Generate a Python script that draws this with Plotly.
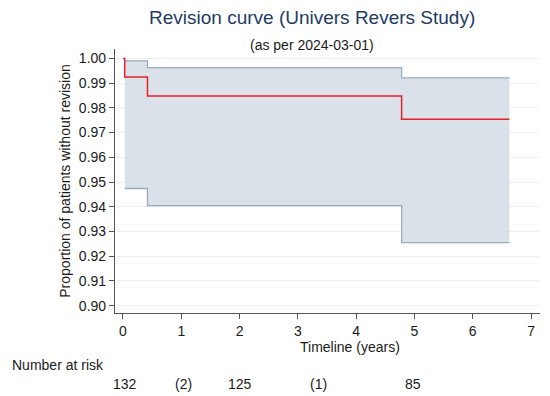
import plotly.graph_objects as go

# Kaplan-Meier revision curve data
km_time = [0.0, 0.03, 0.42, 4.78, 6.63]
km_surv = [1.0, 0.9925, 0.9848, 0.9754, 0.9754]
ci_time = [0.03, 0.42, 4.78, 6.63]
ci_upper = [0.9990, 0.9963, 0.9921, 0.9921]
ci_lower = [0.9474, 0.9405, 0.9255, 0.9255]

x_ticks = [0, 1, 2, 3, 4, 5, 6, 7]
y_ticks = [0.90, 0.91, 0.92, 0.93, 0.94, 0.95, 0.96, 0.97, 0.98, 0.99, 1.00]

risk_pos = [0.03, 1.03, 2.0, 3.36, 4.97]
risk_labels = ["132", "(2)", "125", "(1)", "85"]

FONT = "Liberation Sans, Arial, sans-serif"
fill_col = "rgba(214,222,230,0.9)"
ci_line = "#9aabbf"
red = "#e8202a"
txt = "#1a1a1a"

OFF = 8  # page body margin
L, R, T, B = 115 - OFF, 10, 49 - OFF, 83
W, H = 550 - OFF, 396 - OFF
PW, PH = W - L - R, H - T - B

def px(x):
    return (x - OFF - L) / PW

def py(y):
    return (H - B - (y - OFF)) / PH

fig = go.Figure()
fig.add_trace(go.Scatter(x=ci_time, y=ci_lower, mode="lines", line=dict(shape="hv", color=ci_line, width=1.3),
                         hoverinfo="skip", showlegend=False))
fig.add_trace(go.Scatter(x=ci_time, y=ci_upper, mode="lines", line=dict(shape="hv", color=ci_line, width=1.3),
                         fill="tonexty", fillcolor=fill_col, hoverinfo="skip", showlegend=False))
fig.add_trace(go.Scatter(x=km_time, y=km_surv, mode="lines", line=dict(shape="hv", color=red, width=1.5),
                         showlegend=False))

annotations = [
    dict(text="Revision curve (Univers Revers Study)", x=px(312), y=py(17), xref="paper", yref="paper",
         showarrow=False, font=dict(family=FONT, size=19, color="#1d3b66"), xanchor="center", yanchor="middle"),
    dict(text="(as per 2024-03-01)", x=px(312), y=py(45), xref="paper", yref="paper",
         showarrow=False, font=dict(family=FONT, size=14, color=txt), xanchor="center", yanchor="middle"),
    dict(text="Timeline (years)", x=px(350), y=py(347), xref="paper", yref="paper",
         showarrow=False, font=dict(family=FONT, size=14, color=txt), xanchor="center", yanchor="middle"),
    dict(text="Number at risk", x=px(10), y=py(365), xref="paper", yref="paper",
         showarrow=False, font=dict(family=FONT, size=14, color=txt), xanchor="left", yanchor="middle"),
]
for p, lab in zip(risk_pos, risk_labels):
    annotations.append(dict(text=lab, x=p, y=py(384), xref="x", yref="paper", showarrow=False,
                            font=dict(family=FONT, size=14, color=txt), xanchor="center", yanchor="middle"))

fig.update_layout(
    width=W, height=H,
    margin=dict(l=L, r=R, t=T, b=B, autoexpand=False),
    paper_bgcolor="white", plot_bgcolor="white",
    font=dict(family=FONT, size=14, color=txt),
    annotations=annotations,
    xaxis=dict(range=[-0.137, 7.154], tickvals=x_ticks, showgrid=False, zeroline=False, automargin=False,
               showline=True, linecolor="#555", linewidth=1.2, ticks="outside", ticklen=5, tickcolor="#555",
               tickfont=dict(size=14, color=txt)),
    yaxis=dict(range=[0.89705, 1.0038], tickvals=y_ticks, tickformat=".2f", showgrid=True, gridcolor="#eef0f2",
               gridwidth=1, zeroline=False, showline=True, linecolor="#555", linewidth=1.2, automargin=False,
               ticks="outside", ticklen=5, tickcolor="#555", tickfont=dict(size=14, color=txt),
               title=dict(text="Proportion of patients without revision", font=dict(size=14, color=txt),
                          standoff=4)),
)

fig.write_html("out.html")
